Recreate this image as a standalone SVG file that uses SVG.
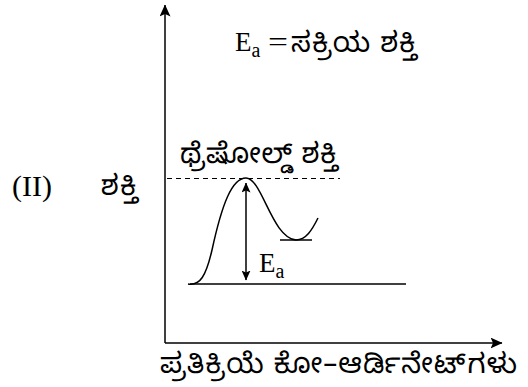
<svg xmlns="http://www.w3.org/2000/svg" width="528" height="387" viewBox="0 0 528 387">
<style>
.ln{stroke:#000;stroke-width:1.5;fill:none}
.lat{font-family:"Liberation Serif","Times New Roman",serif;fill:#000}
.kn{font-family:"Noto Sans Kannada","Noto Serif Kannada","Noto Sans",sans-serif;fill:#000}
</style>
<defs>
<marker id="ah" viewBox="0 0 12 11" refX="11.5" refY="5.5" markerWidth="12" markerHeight="11" markerUnits="userSpaceOnUse" orient="auto-start-reverse">
<path d="M0,0 L12,5.5 L0,11 L2.5,5.5 z" fill="#000"/>
</marker>
<marker id="ah2" viewBox="0 0 10 9" refX="9.5" refY="4.5" markerWidth="10" markerHeight="9" markerUnits="userSpaceOnUse" orient="auto-start-reverse">
<path d="M0,0 L10,4.5 L0,9 L2,4.5 z" fill="#000"/>
</marker>
</defs>
<g id="axes">
<line class="ln" x1="165" y1="343" x2="165" y2="5" marker-end="url(#ah)"/>
<line class="ln" x1="165" y1="343" x2="502" y2="343" marker-end="url(#ah)"/>
</g>
<g id="connectors">
<line x1="167" y1="178.5" x2="340" y2="178.5" stroke="#000" stroke-width="1" stroke-dasharray="5,4"/>
<line class="ln" x1="190" y1="284" x2="406" y2="284"/>
<line class="ln" x1="280" y1="240" x2="312" y2="240"/>
<path class="ln" d="M188,284 C200,286 206,276 212,250 C222,204 232,178 246,178 C262,178 272,238 296,240 C306,240 312,230 318,218"/>
<line class="ln" x1="246" y1="183" x2="246" y2="280" marker-start="url(#ah2)" marker-end="url(#ah2)"/>
</g>
<g id="title">
<text class="lat" x="235" y="51" font-size="27">E<tspan font-size="20" dy="6">a</tspan></text>
<text class="lat" x="268" y="51" font-size="27" textLength="20" lengthAdjust="spacingAndGlyphs">=</text>
<text class="kn" x="291" y="52" font-size="28" textLength="126" lengthAdjust="spacing">ಸಕ್ರಿಯ  ಶಕ್ತಿ</text>
</g>
<g id="label-II"><text class="lat" x="12" y="196" font-size="30">(II)</text></g>
<g id="y-label"><text class="kn" x="101" y="195" font-size="28" textLength="37" lengthAdjust="spacing">ಶಕ್ತಿ</text></g>
<g id="threshold"><text class="kn" x="180" y="163" font-size="28" textLength="158" lengthAdjust="spacing">ಥ್ರೆಷೋಲ್ಡ್ ಶಕ್ತಿ</text></g>
<g id="ea-label"><text class="lat" x="259" y="272" font-size="27">E<tspan font-size="20" dy="6">a</tspan></text></g>
<g id="x-label"><text class="kn" x="160" y="373" font-size="28" textLength="357" lengthAdjust="spacing">ಪ್ರತಿಕ್ರಿಯೆ ಕೋ–ಆರ್ಡಿನೇಟ್‌ಗಳು</text></g>
</svg>
